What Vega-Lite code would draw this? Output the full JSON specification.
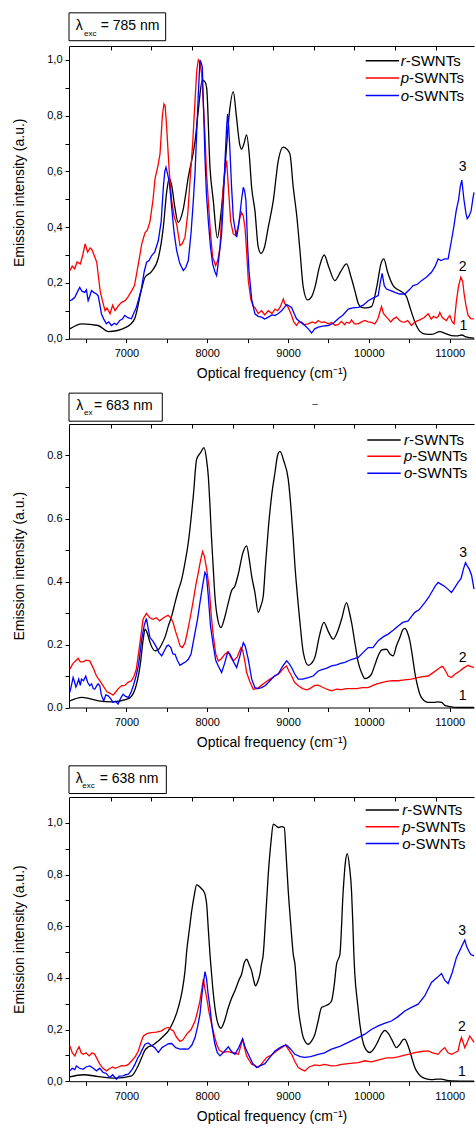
{
"$schema":"https://vega.github.io/schema/vega-lite/v6.json",
"background":"white",
"padding":{"left":12,"top":12,"right":0,"bottom":0},
"config":{"font":"Liberation Sans","view":{"stroke":null},"axis":{"domainColor":"#000","tickColor":"#000","labelColor":"#000","titleColor":"#000","labelFontSize":11,"titleFontSize":14,"titleFontWeight":"normal","grid":false,"domainWidth":1,"tickWidth":1,"labelOverlap":false,"labelFlush":false},"text":{"color":"#000"}},
"datasets":{
"r1":[{"x":6300,"y":0.035},{"x":6450,"y":0.053},{"x":6650,"y":0.047},{"x":6780,"y":0.025},{"x":7000,"y":0.041},{"x":7100,"y":0.07},{"x":7190,"y":0.18},{"x":7230,"y":0.22},{"x":7310,"y":0.24},{"x":7395,"y":0.29},{"x":7457,"y":0.40},{"x":7500,"y":0.53},{"x":7530,"y":0.575},{"x":7560,"y":0.55},{"x":7600,"y":0.47},{"x":7640,"y":0.417},{"x":7700,"y":0.46},{"x":7766,"y":0.58},{"x":7850,"y":0.71},{"x":7890,"y":0.82},{"x":7940,"y":0.928},{"x":7975,"y":0.92},{"x":7993,"y":0.9},{"x":8034,"y":0.615},{"x":8075,"y":0.495},{"x":8125,"y":0.361},{"x":8170,"y":0.45},{"x":8220,"y":0.615},{"x":8270,"y":0.8},{"x":8322,"y":0.886},{"x":8360,"y":0.8},{"x":8400,"y":0.7},{"x":8425,"y":0.68},{"x":8455,"y":0.7},{"x":8487,"y":0.731},{"x":8520,"y":0.66},{"x":8549,"y":0.543},{"x":8590,"y":0.459},{"x":8630,"y":0.33},{"x":8665,"y":0.306},{"x":8710,"y":0.33},{"x":8755,"y":0.4},{"x":8817,"y":0.495},{"x":8879,"y":0.639},{"x":8940,"y":0.687},{"x":8985,"y":0.68},{"x":9023,"y":0.663},{"x":9064,"y":0.543},{"x":9105,"y":0.447},{"x":9147,"y":0.316},{"x":9188,"y":0.184},{"x":9241,"y":0.139},{"x":9290,"y":0.15},{"x":9332,"y":0.184},{"x":9390,"y":0.26},{"x":9447,"y":0.3},{"x":9500,"y":0.26},{"x":9579,"y":0.208},{"x":9650,"y":0.24},{"x":9723,"y":0.268},{"x":9780,"y":0.22},{"x":9826,"y":0.172},{"x":9870,"y":0.125},{"x":9909,"y":0.112},{"x":9960,"y":0.11},{"x":10032,"y":0.115},{"x":10100,"y":0.19},{"x":10150,"y":0.27},{"x":10185,"y":0.286},{"x":10230,"y":0.24},{"x":10300,"y":0.19},{"x":10362,"y":0.175},{"x":10420,"y":0.165},{"x":10465,"y":0.15},{"x":10510,"y":0.11},{"x":10547,"y":0.077},{"x":10590,"y":0.045},{"x":10630,"y":0.026},{"x":10700,"y":0.016},{"x":10780,"y":0.015},{"x":10877,"y":0.025},{"x":10950,"y":0.018},{"x":11021,"y":0.011},{"x":11100,"y":0.01},{"x":11150,"y":0.013},{"x":11200,"y":0.006},{"x":11300,"y":0.002}],
"p1":[{"x":6300,"y":0.244},{"x":6330,"y":0.26},{"x":6360,"y":0.25},{"x":6390,"y":0.275},{"x":6430,"y":0.268},{"x":6460,"y":0.3},{"x":6490,"y":0.34},{"x":6520,"y":0.31},{"x":6550,"y":0.325},{"x":6572,"y":0.32},{"x":6600,"y":0.3},{"x":6633,"y":0.274},{"x":6655,"y":0.22},{"x":6675,"y":0.172},{"x":6700,"y":0.14},{"x":6736,"y":0.1},{"x":6760,"y":0.11},{"x":6798,"y":0.089},{"x":6830,"y":0.12},{"x":6860,"y":0.1},{"x":6901,"y":0.118},{"x":6940,"y":0.13},{"x":6984,"y":0.136},{"x":7020,"y":0.15},{"x":7066,"y":0.172},{"x":7100,"y":0.19},{"x":7148,"y":0.268},{"x":7190,"y":0.34},{"x":7230,"y":0.38},{"x":7260,"y":0.39},{"x":7292,"y":0.42},{"x":7330,"y":0.5},{"x":7354,"y":0.573},{"x":7390,"y":0.62},{"x":7416,"y":0.663},{"x":7445,"y":0.8},{"x":7465,"y":0.842},{"x":7480,"y":0.835},{"x":7498,"y":0.758},{"x":7530,"y":0.6},{"x":7560,"y":0.495},{"x":7590,"y":0.44},{"x":7622,"y":0.41},{"x":7663,"y":0.334},{"x":7690,"y":0.34},{"x":7725,"y":0.364},{"x":7760,"y":0.45},{"x":7787,"y":0.567},{"x":7820,"y":0.7},{"x":7849,"y":0.854},{"x":7870,"y":0.96},{"x":7890,"y":1.0},{"x":7910,"y":0.99},{"x":7931,"y":0.95},{"x":7950,"y":0.85},{"x":7972,"y":0.734},{"x":7990,"y":0.6},{"x":8013,"y":0.495},{"x":8040,"y":0.38},{"x":8067,"y":0.292},{"x":8104,"y":0.262},{"x":8130,"y":0.28},{"x":8158,"y":0.328},{"x":8180,"y":0.45},{"x":8199,"y":0.543},{"x":8220,"y":0.6},{"x":8240,"y":0.639},{"x":8260,"y":0.55},{"x":8290,"y":0.42},{"x":8322,"y":0.376},{"x":8351,"y":0.37},{"x":8380,"y":0.4},{"x":8405,"y":0.435},{"x":8425,"y":0.453},{"x":8445,"y":0.44},{"x":8467,"y":0.4},{"x":8490,"y":0.3},{"x":8508,"y":0.208},{"x":8540,"y":0.14},{"x":8570,"y":0.115},{"x":8590,"y":0.112},{"x":8630,"y":0.09},{"x":8673,"y":0.1},{"x":8710,"y":0.085},{"x":8755,"y":0.1},{"x":8800,"y":0.09},{"x":8838,"y":0.106},{"x":8870,"y":0.1},{"x":8900,"y":0.112},{"x":8925,"y":0.13},{"x":8941,"y":0.142},{"x":8960,"y":0.125},{"x":8980,"y":0.12},{"x":9002,"y":0.112},{"x":9044,"y":0.083},{"x":9070,"y":0.06},{"x":9105,"y":0.047},{"x":9135,"y":0.06},{"x":9167,"y":0.059},{"x":9200,"y":0.05},{"x":9249,"y":0.053},{"x":9300,"y":0.06},{"x":9340,"y":0.055},{"x":9373,"y":0.065},{"x":9410,"y":0.058},{"x":9450,"y":0.06},{"x":9497,"y":0.053},{"x":9540,"y":0.058},{"x":9580,"y":0.048},{"x":9620,"y":0.05},{"x":9660,"y":0.062},{"x":9700,"y":0.05},{"x":9723,"y":0.059},{"x":9760,"y":0.055},{"x":9785,"y":0.067},{"x":9820,"y":0.053},{"x":9868,"y":0.053},{"x":9910,"y":0.06},{"x":9950,"y":0.065},{"x":9990,"y":0.06},{"x":10030,"y":0.058},{"x":10074,"y":0.053},{"x":10110,"y":0.07},{"x":10140,"y":0.1},{"x":10156,"y":0.115},{"x":10180,"y":0.09},{"x":10210,"y":0.08},{"x":10238,"y":0.071},{"x":10270,"y":0.06},{"x":10300,"y":0.07},{"x":10341,"y":0.077},{"x":10380,"y":0.065},{"x":10410,"y":0.06},{"x":10444,"y":0.059},{"x":10480,"y":0.065},{"x":10527,"y":0.047},{"x":10570,"y":0.06},{"x":10630,"y":0.067},{"x":10680,"y":0.075},{"x":10733,"y":0.089},{"x":10770,"y":0.07},{"x":10800,"y":0.08},{"x":10836,"y":0.074},{"x":10860,"y":0.08},{"x":10877,"y":0.094},{"x":10910,"y":0.075},{"x":10959,"y":0.065},{"x":10980,"y":0.075},{"x":11001,"y":0.083},{"x":11030,"y":0.06},{"x":11054,"y":0.053},{"x":11083,"y":0.136},{"x":11110,"y":0.19},{"x":11137,"y":0.22},{"x":11160,"y":0.205},{"x":11178,"y":0.16},{"x":11200,"y":0.12},{"x":11227,"y":0.083},{"x":11260,"y":0.072},{"x":11300,"y":0.071}],
"o1":[{"x":6300,"y":0.136},{"x":6330,"y":0.14},{"x":6362,"y":0.148},{"x":6390,"y":0.165},{"x":6423,"y":0.184},{"x":6450,"y":0.17},{"x":6485,"y":0.166},{"x":6505,"y":0.175},{"x":6527,"y":0.136},{"x":6545,"y":0.15},{"x":6568,"y":0.172},{"x":6600,"y":0.165},{"x":6630,"y":0.16},{"x":6650,"y":0.154},{"x":6670,"y":0.125},{"x":6691,"y":0.089},{"x":6720,"y":0.07},{"x":6753,"y":0.053},{"x":6780,"y":0.06},{"x":6815,"y":0.047},{"x":6850,"y":0.055},{"x":6880,"y":0.05},{"x":6918,"y":0.065},{"x":6950,"y":0.07},{"x":6980,"y":0.083},{"x":7020,"y":0.075},{"x":7062,"y":0.071},{"x":7090,"y":0.09},{"x":7123,"y":0.112},{"x":7150,"y":0.14},{"x":7185,"y":0.178},{"x":7220,"y":0.24},{"x":7250,"y":0.274},{"x":7280,"y":0.28},{"x":7313,"y":0.298},{"x":7350,"y":0.31},{"x":7395,"y":0.352},{"x":7430,"y":0.42},{"x":7457,"y":0.543},{"x":7475,"y":0.6},{"x":7490,"y":0.615},{"x":7510,"y":0.59},{"x":7527,"y":0.567},{"x":7545,"y":0.52},{"x":7560,"y":0.471},{"x":7590,"y":0.38},{"x":7622,"y":0.316},{"x":7660,"y":0.27},{"x":7704,"y":0.244},{"x":7735,"y":0.255},{"x":7766,"y":0.28},{"x":7800,"y":0.38},{"x":7828,"y":0.495},{"x":7850,"y":0.6},{"x":7869,"y":0.734},{"x":7890,"y":0.88},{"x":7910,"y":1.0},{"x":7925,"y":0.99},{"x":7939,"y":0.974},{"x":7955,"y":0.82},{"x":7972,"y":0.651},{"x":7990,"y":0.52},{"x":8013,"y":0.423},{"x":8040,"y":0.33},{"x":8067,"y":0.268},{"x":8095,"y":0.24},{"x":8116,"y":0.226},{"x":8140,"y":0.28},{"x":8178,"y":0.376},{"x":8200,"y":0.5},{"x":8220,"y":0.639},{"x":8240,"y":0.76},{"x":8252,"y":0.806},{"x":8265,"y":0.76},{"x":8281,"y":0.675},{"x":8300,"y":0.55},{"x":8322,"y":0.435},{"x":8345,"y":0.39},{"x":8364,"y":0.364},{"x":8385,"y":0.4},{"x":8405,"y":0.447},{"x":8425,"y":0.5},{"x":8446,"y":0.543},{"x":8462,"y":0.53},{"x":8479,"y":0.495},{"x":8500,"y":0.33},{"x":8516,"y":0.244},{"x":8550,"y":0.14},{"x":8590,"y":0.089},{"x":8630,"y":0.08},{"x":8673,"y":0.077},{"x":8710,"y":0.07},{"x":8755,"y":0.077},{"x":8800,"y":0.085},{"x":8838,"y":0.083},{"x":8880,"y":0.09},{"x":8920,"y":0.1},{"x":8950,"y":0.11},{"x":8982,"y":0.122},{"x":9010,"y":0.118},{"x":9044,"y":0.112},{"x":9075,"y":0.09},{"x":9105,"y":0.071},{"x":9150,"y":0.06},{"x":9208,"y":0.047},{"x":9250,"y":0.035},{"x":9291,"y":0.02},{"x":9330,"y":0.035},{"x":9373,"y":0.041},{"x":9430,"y":0.045},{"x":9497,"y":0.047},{"x":9560,"y":0.055},{"x":9620,"y":0.071},{"x":9680,"y":0.085},{"x":9744,"y":0.106},{"x":9800,"y":0.11},{"x":9868,"y":0.112},{"x":9930,"y":0.12},{"x":9991,"y":0.136},{"x":10050,"y":0.145},{"x":10115,"y":0.154},{"x":10140,"y":0.2},{"x":10164,"y":0.234},{"x":10190,"y":0.19},{"x":10218,"y":0.178},{"x":10270,"y":0.172},{"x":10321,"y":0.166},{"x":10380,"y":0.16},{"x":10444,"y":0.16},{"x":10500,"y":0.175},{"x":10547,"y":0.19},{"x":10600,"y":0.195},{"x":10650,"y":0.208},{"x":10710,"y":0.22},{"x":10774,"y":0.238},{"x":10820,"y":0.26},{"x":10856,"y":0.286},{"x":10890,"y":0.28},{"x":10938,"y":0.286},{"x":10980,"y":0.286},{"x":11021,"y":0.352},{"x":11050,"y":0.4},{"x":11080,"y":0.459},{"x":11110,"y":0.5},{"x":11130,"y":0.545},{"x":11149,"y":0.569},{"x":11175,"y":0.5},{"x":11200,"y":0.45},{"x":11216,"y":0.43},{"x":11240,"y":0.44},{"x":11265,"y":0.459},{"x":11285,"y":0.5},{"x":11300,"y":0.525}],
"r2":[{"x":6300,"y":0.021},{"x":6450,"y":0.032},{"x":6654,"y":0.021},{"x":6819,"y":0.018},{"x":7000,"y":0.026},{"x":7060,"y":0.035},{"x":7107,"y":0.058},{"x":7169,"y":0.132},{"x":7210,"y":0.22},{"x":7231,"y":0.249},{"x":7260,"y":0.235},{"x":7293,"y":0.206},{"x":7354,"y":0.18},{"x":7400,"y":0.185},{"x":7437,"y":0.201},{"x":7480,"y":0.225},{"x":7519,"y":0.259},{"x":7560,"y":0.29},{"x":7602,"y":0.333},{"x":7640,"y":0.37},{"x":7684,"y":0.407},{"x":7725,"y":0.46},{"x":7766,"y":0.524},{"x":7800,"y":0.6},{"x":7828,"y":0.672},{"x":7869,"y":0.788},{"x":7920,"y":0.81},{"x":7960,"y":0.825},{"x":7990,"y":0.79},{"x":8013,"y":0.735},{"x":8034,"y":0.64},{"x":8054,"y":0.534},{"x":8075,"y":0.44},{"x":8095,"y":0.354},{"x":8130,"y":0.28},{"x":8170,"y":0.254},{"x":8210,"y":0.28},{"x":8261,"y":0.333},{"x":8300,"y":0.37},{"x":8343,"y":0.386},{"x":8390,"y":0.43},{"x":8440,"y":0.49},{"x":8487,"y":0.513},{"x":8520,"y":0.47},{"x":8549,"y":0.418},{"x":8590,"y":0.365},{"x":8631,"y":0.302},{"x":8660,"y":0.32},{"x":8693,"y":0.354},{"x":8720,"y":0.45},{"x":8755,"y":0.566},{"x":8800,"y":0.68},{"x":8838,"y":0.746},{"x":8870,"y":0.8},{"x":8900,"y":0.813},{"x":8950,"y":0.78},{"x":9002,"y":0.725},{"x":9040,"y":0.62},{"x":9064,"y":0.534},{"x":9085,"y":0.45},{"x":9105,"y":0.386},{"x":9147,"y":0.27},{"x":9188,"y":0.175},{"x":9250,"y":0.134},{"x":9290,"y":0.14},{"x":9332,"y":0.159},{"x":9390,"y":0.23},{"x":9443,"y":0.27},{"x":9500,"y":0.24},{"x":9559,"y":0.217},{"x":9610,"y":0.24},{"x":9662,"y":0.28},{"x":9723,"y":0.333},{"x":9760,"y":0.3},{"x":9785,"y":0.27},{"x":9830,"y":0.2},{"x":9868,"y":0.143},{"x":9910,"y":0.11},{"x":9950,"y":0.092},{"x":9990,"y":0.095},{"x":10032,"y":0.106},{"x":10080,"y":0.14},{"x":10115,"y":0.164},{"x":10160,"y":0.183},{"x":10218,"y":0.185},{"x":10260,"y":0.17},{"x":10300,"y":0.164},{"x":10340,"y":0.195},{"x":10383,"y":0.222},{"x":10420,"y":0.247},{"x":10444,"y":0.251},{"x":10475,"y":0.24},{"x":10506,"y":0.212},{"x":10540,"y":0.16},{"x":10568,"y":0.111},{"x":10600,"y":0.07},{"x":10630,"y":0.042},{"x":10680,"y":0.022},{"x":10733,"y":0.016},{"x":10800,"y":0.016},{"x":10856,"y":0.018},{"x":10900,"y":0.016},{"x":10938,"y":0.007},{"x":11000,"y":0.003},{"x":11103,"y":0.0},{"x":11300,"y":0.0}],
"p2":[{"x":6300,"y":0.122},{"x":6340,"y":0.14},{"x":6380,"y":0.15},{"x":6403,"y":0.156},{"x":6430,"y":0.145},{"x":6465,"y":0.145},{"x":6500,"y":0.15},{"x":6547,"y":0.148},{"x":6590,"y":0.125},{"x":6630,"y":0.1},{"x":6670,"y":0.085},{"x":6712,"y":0.069},{"x":6760,"y":0.05},{"x":6800,"y":0.045},{"x":6835,"y":0.039},{"x":6870,"y":0.05},{"x":6900,"y":0.06},{"x":6938,"y":0.069},{"x":6980,"y":0.07},{"x":7020,"y":0.08},{"x":7062,"y":0.085},{"x":7095,"y":0.1},{"x":7123,"y":0.122},{"x":7160,"y":0.19},{"x":7206,"y":0.28},{"x":7247,"y":0.299},{"x":7290,"y":0.285},{"x":7329,"y":0.28},{"x":7370,"y":0.285},{"x":7411,"y":0.275},{"x":7460,"y":0.285},{"x":7515,"y":0.293},{"x":7550,"y":0.285},{"x":7577,"y":0.27},{"x":7610,"y":0.24},{"x":7639,"y":0.217},{"x":7665,"y":0.195},{"x":7692,"y":0.19},{"x":7725,"y":0.205},{"x":7762,"y":0.249},{"x":7800,"y":0.3},{"x":7823,"y":0.333},{"x":7860,"y":0.39},{"x":7890,"y":0.429},{"x":7920,"y":0.47},{"x":7943,"y":0.495},{"x":7965,"y":0.48},{"x":7993,"y":0.439},{"x":8026,"y":0.376},{"x":8050,"y":0.29},{"x":8075,"y":0.228},{"x":8105,"y":0.17},{"x":8137,"y":0.148},{"x":8175,"y":0.155},{"x":8220,"y":0.17},{"x":8261,"y":0.177},{"x":8290,"y":0.16},{"x":8322,"y":0.148},{"x":8370,"y":0.16},{"x":8417,"y":0.19},{"x":8440,"y":0.18},{"x":8470,"y":0.14},{"x":8487,"y":0.111},{"x":8530,"y":0.08},{"x":8570,"y":0.058},{"x":8620,"y":0.06},{"x":8673,"y":0.071},{"x":8720,"y":0.08},{"x":8776,"y":0.09},{"x":8840,"y":0.1},{"x":8900,"y":0.111},{"x":8945,"y":0.125},{"x":8982,"y":0.132},{"x":9010,"y":0.115},{"x":9044,"y":0.1},{"x":9080,"y":0.08},{"x":9126,"y":0.069},{"x":9180,"y":0.06},{"x":9229,"y":0.056},{"x":9270,"y":0.06},{"x":9330,"y":0.07},{"x":9373,"y":0.071},{"x":9420,"y":0.065},{"x":9480,"y":0.058},{"x":9538,"y":0.053},{"x":9600,"y":0.058},{"x":9660,"y":0.057},{"x":9720,"y":0.06},{"x":9785,"y":0.06},{"x":9850,"y":0.06},{"x":9920,"y":0.063},{"x":9991,"y":0.063},{"x":10050,"y":0.07},{"x":10100,"y":0.075},{"x":10156,"y":0.079},{"x":10220,"y":0.083},{"x":10290,"y":0.085},{"x":10362,"y":0.085},{"x":10440,"y":0.088},{"x":10527,"y":0.09},{"x":10600,"y":0.095},{"x":10670,"y":0.098},{"x":10733,"y":0.1},{"x":10790,"y":0.11},{"x":10856,"y":0.122},{"x":10900,"y":0.13},{"x":10918,"y":0.129},{"x":10950,"y":0.115},{"x":10980,"y":0.1},{"x":11021,"y":0.095},{"x":11060,"y":0.105},{"x":11124,"y":0.116},{"x":11170,"y":0.125},{"x":11227,"y":0.134},{"x":11260,"y":0.13},{"x":11300,"y":0.127}],
"o2":[{"x":6300,"y":0.048},{"x":6320,"y":0.07},{"x":6341,"y":0.095},{"x":6360,"y":0.08},{"x":6375,"y":0.065},{"x":6390,"y":0.074},{"x":6410,"y":0.09},{"x":6430,"y":0.07},{"x":6444,"y":0.09},{"x":6470,"y":0.085},{"x":6497,"y":0.1},{"x":6520,"y":0.08},{"x":6547,"y":0.069},{"x":6570,"y":0.075},{"x":6590,"y":0.06},{"x":6609,"y":0.058},{"x":6635,"y":0.07},{"x":6650,"y":0.075},{"x":6671,"y":0.069},{"x":6690,"y":0.04},{"x":6720,"y":0.021},{"x":6745,"y":0.04},{"x":6774,"y":0.037},{"x":6800,"y":0.03},{"x":6835,"y":0.016},{"x":6865,"y":0.02},{"x":6897,"y":0.011},{"x":6930,"y":0.03},{"x":6959,"y":0.042},{"x":6990,"y":0.035},{"x":7025,"y":0.032},{"x":7060,"y":0.05},{"x":7086,"y":0.069},{"x":7120,"y":0.1},{"x":7148,"y":0.132},{"x":7170,"y":0.175},{"x":7190,"y":0.217},{"x":7220,"y":0.26},{"x":7247,"y":0.283},{"x":7270,"y":0.25},{"x":7292,"y":0.222},{"x":7330,"y":0.21},{"x":7375,"y":0.19},{"x":7400,"y":0.175},{"x":7437,"y":0.164},{"x":7470,"y":0.18},{"x":7500,"y":0.195},{"x":7519,"y":0.198},{"x":7550,"y":0.19},{"x":7575,"y":0.17},{"x":7602,"y":0.169},{"x":7630,"y":0.15},{"x":7663,"y":0.134},{"x":7700,"y":0.14},{"x":7735,"y":0.145},{"x":7766,"y":0.153},{"x":7800,"y":0.17},{"x":7849,"y":0.238},{"x":7880,"y":0.28},{"x":7910,"y":0.333},{"x":7945,"y":0.39},{"x":7972,"y":0.429},{"x":7990,"y":0.42},{"x":8013,"y":0.354},{"x":8040,"y":0.26},{"x":8075,"y":0.196},{"x":8105,"y":0.15},{"x":8137,"y":0.132},{"x":8178,"y":0.111},{"x":8215,"y":0.14},{"x":8252,"y":0.175},{"x":8280,"y":0.17},{"x":8302,"y":0.159},{"x":8335,"y":0.14},{"x":8364,"y":0.127},{"x":8400,"y":0.16},{"x":8446,"y":0.206},{"x":8470,"y":0.195},{"x":8508,"y":0.153},{"x":8550,"y":0.09},{"x":8590,"y":0.063},{"x":8630,"y":0.06},{"x":8673,"y":0.063},{"x":8720,"y":0.07},{"x":8776,"y":0.085},{"x":8830,"y":0.1},{"x":8879,"y":0.106},{"x":8930,"y":0.13},{"x":8982,"y":0.148},{"x":9010,"y":0.14},{"x":9044,"y":0.127},{"x":9085,"y":0.105},{"x":9126,"y":0.09},{"x":9180,"y":0.09},{"x":9250,"y":0.095},{"x":9310,"y":0.1},{"x":9373,"y":0.116},{"x":9420,"y":0.12},{"x":9480,"y":0.125},{"x":9538,"y":0.132},{"x":9600,"y":0.135},{"x":9650,"y":0.14},{"x":9703,"y":0.143},{"x":9760,"y":0.15},{"x":9820,"y":0.155},{"x":9868,"y":0.159},{"x":9930,"y":0.175},{"x":9991,"y":0.19},{"x":10050,"y":0.19},{"x":10115,"y":0.212},{"x":10180,"y":0.225},{"x":10238,"y":0.233},{"x":10300,"y":0.245},{"x":10362,"y":0.259},{"x":10420,"y":0.27},{"x":10486,"y":0.275},{"x":10530,"y":0.29},{"x":10568,"y":0.302},{"x":10620,"y":0.31},{"x":10692,"y":0.333},{"x":10740,"y":0.35},{"x":10774,"y":0.365},{"x":10820,"y":0.385},{"x":10856,"y":0.397},{"x":10900,"y":0.39},{"x":10938,"y":0.384},{"x":10980,"y":0.375},{"x":11021,"y":0.365},{"x":11060,"y":0.38},{"x":11103,"y":0.397},{"x":11140,"y":0.41},{"x":11170,"y":0.44},{"x":11195,"y":0.46},{"x":11215,"y":0.45},{"x":11240,"y":0.44},{"x":11270,"y":0.42},{"x":11300,"y":0.376}],
"r3":[{"x":6300,"y":0.017},{"x":6465,"y":0.025},{"x":6654,"y":0.018},{"x":6860,"y":0.012},{"x":7066,"y":0.021},{"x":7130,"y":0.05},{"x":7190,"y":0.092},{"x":7230,"y":0.12},{"x":7272,"y":0.133},{"x":7330,"y":0.14},{"x":7395,"y":0.156},{"x":7460,"y":0.175},{"x":7519,"y":0.195},{"x":7580,"y":0.23},{"x":7642,"y":0.285},{"x":7690,"y":0.35},{"x":7725,"y":0.427},{"x":7746,"y":0.504},{"x":7780,"y":0.59},{"x":7808,"y":0.659},{"x":7840,"y":0.72},{"x":7869,"y":0.76},{"x":7900,"y":0.755},{"x":7930,"y":0.745},{"x":7952,"y":0.737},{"x":7975,"y":0.72},{"x":7993,"y":0.685},{"x":8015,"y":0.58},{"x":8034,"y":0.491},{"x":8054,"y":0.414},{"x":8075,"y":0.34},{"x":8095,"y":0.285},{"x":8130,"y":0.225},{"x":8170,"y":0.205},{"x":8210,"y":0.23},{"x":8261,"y":0.285},{"x":8300,"y":0.32},{"x":8343,"y":0.35},{"x":8390,"y":0.39},{"x":8425,"y":0.414},{"x":8460,"y":0.46},{"x":8487,"y":0.472},{"x":8520,"y":0.45},{"x":8549,"y":0.427},{"x":8575,"y":0.39},{"x":8598,"y":0.369},{"x":8625,"y":0.385},{"x":8652,"y":0.414},{"x":8670,"y":0.45},{"x":8693,"y":0.491},{"x":8720,"y":0.62},{"x":8755,"y":0.801},{"x":8790,"y":0.93},{"x":8817,"y":0.995},{"x":8845,"y":0.99},{"x":8879,"y":0.982},{"x":8920,"y":0.985},{"x":8953,"y":0.982},{"x":8975,"y":0.88},{"x":9002,"y":0.737},{"x":9035,"y":0.6},{"x":9064,"y":0.491},{"x":9085,"y":0.453},{"x":9105,"y":0.37},{"x":9126,"y":0.285},{"x":9160,"y":0.21},{"x":9188,"y":0.169},{"x":9250,"y":0.143},{"x":9290,"y":0.155},{"x":9332,"y":0.182},{"x":9370,"y":0.23},{"x":9414,"y":0.285},{"x":9450,"y":0.29},{"x":9476,"y":0.294},{"x":9510,"y":0.3},{"x":9538,"y":0.311},{"x":9570,"y":0.37},{"x":9600,"y":0.453},{"x":9641,"y":0.491},{"x":9682,"y":0.737},{"x":9710,"y":0.85},{"x":9732,"y":0.881},{"x":9760,"y":0.83},{"x":9785,"y":0.737},{"x":9800,"y":0.62},{"x":9814,"y":0.491},{"x":9826,"y":0.414},{"x":9860,"y":0.3},{"x":9888,"y":0.221},{"x":9920,"y":0.16},{"x":9950,"y":0.13},{"x":10012,"y":0.111},{"x":10060,"y":0.125},{"x":10115,"y":0.156},{"x":10160,"y":0.185},{"x":10197,"y":0.197},{"x":10240,"y":0.185},{"x":10280,"y":0.163},{"x":10341,"y":0.13},{"x":10383,"y":0.143},{"x":10420,"y":0.16},{"x":10444,"y":0.163},{"x":10475,"y":0.145},{"x":10506,"y":0.117},{"x":10540,"y":0.08},{"x":10568,"y":0.053},{"x":10610,"y":0.03},{"x":10650,"y":0.017},{"x":10700,"y":0.01},{"x":10774,"y":0.006},{"x":10850,"y":0.008},{"x":10898,"y":0.008},{"x":10950,"y":0.004},{"x":11021,"y":0.001},{"x":11300,"y":0.0}],
"p3":[{"x":6300,"y":0.137},{"x":6330,"y":0.11},{"x":6362,"y":0.098},{"x":6390,"y":0.12},{"x":6415,"y":0.133},{"x":6440,"y":0.11},{"x":6465,"y":0.104},{"x":6500,"y":0.11},{"x":6539,"y":0.098},{"x":6575,"y":0.11},{"x":6609,"y":0.104},{"x":6640,"y":0.085},{"x":6671,"y":0.066},{"x":6710,"y":0.05},{"x":6753,"y":0.04},{"x":6800,"y":0.05},{"x":6830,"y":0.055},{"x":6860,"y":0.05},{"x":6900,"y":0.055},{"x":6940,"y":0.06},{"x":6984,"y":0.059},{"x":7025,"y":0.065},{"x":7066,"y":0.079},{"x":7110,"y":0.095},{"x":7148,"y":0.117},{"x":7180,"y":0.15},{"x":7210,"y":0.175},{"x":7260,"y":0.185},{"x":7313,"y":0.188},{"x":7370,"y":0.19},{"x":7437,"y":0.195},{"x":7480,"y":0.205},{"x":7519,"y":0.208},{"x":7550,"y":0.2},{"x":7581,"y":0.195},{"x":7620,"y":0.17},{"x":7663,"y":0.154},{"x":7700,"y":0.16},{"x":7746,"y":0.182},{"x":7800,"y":0.2},{"x":7849,"y":0.233},{"x":7880,"y":0.27},{"x":7910,"y":0.311},{"x":7935,"y":0.36},{"x":7952,"y":0.395},{"x":7970,"y":0.36},{"x":7993,"y":0.324},{"x":8020,"y":0.27},{"x":8054,"y":0.221},{"x":8085,"y":0.18},{"x":8116,"y":0.143},{"x":8150,"y":0.12},{"x":8199,"y":0.111},{"x":8250,"y":0.115},{"x":8302,"y":0.111},{"x":8340,"y":0.11},{"x":8384,"y":0.104},{"x":8410,"y":0.13},{"x":8438,"y":0.163},{"x":8460,"y":0.13},{"x":8487,"y":0.098},{"x":8520,"y":0.08},{"x":8549,"y":0.066},{"x":8590,"y":0.06},{"x":8631,"y":0.053},{"x":8680,"y":0.07},{"x":8734,"y":0.092},{"x":8790,"y":0.1},{"x":8858,"y":0.117},{"x":8920,"y":0.13},{"x":8969,"y":0.141},{"x":9000,"y":0.125},{"x":9044,"y":0.104},{"x":9085,"y":0.075},{"x":9126,"y":0.053},{"x":9170,"y":0.045},{"x":9208,"y":0.04},{"x":9260,"y":0.055},{"x":9332,"y":0.063},{"x":9390,"y":0.06},{"x":9450,"y":0.065},{"x":9538,"y":0.059},{"x":9600,"y":0.06},{"x":9660,"y":0.065},{"x":9744,"y":0.068},{"x":9800,"y":0.07},{"x":9870,"y":0.072},{"x":9950,"y":0.079},{"x":10030,"y":0.075},{"x":10090,"y":0.08},{"x":10156,"y":0.085},{"x":10220,"y":0.09},{"x":10290,"y":0.09},{"x":10362,"y":0.094},{"x":10430,"y":0.1},{"x":10500,"y":0.105},{"x":10568,"y":0.111},{"x":10650,"y":0.115},{"x":10733,"y":0.117},{"x":10790,"y":0.11},{"x":10856,"y":0.104},{"x":10900,"y":0.12},{"x":10938,"y":0.13},{"x":10980,"y":0.11},{"x":11021,"y":0.104},{"x":11060,"y":0.11},{"x":11103,"y":0.117},{"x":11125,"y":0.15},{"x":11145,"y":0.169},{"x":11165,"y":0.15},{"x":11186,"y":0.13},{"x":11215,"y":0.15},{"x":11248,"y":0.175},{"x":11270,"y":0.165},{"x":11300,"y":0.15}],
"o3":[{"x":6300,"y":0.04},{"x":6330,"y":0.05},{"x":6360,"y":0.045},{"x":6382,"y":0.059},{"x":6420,"y":0.05},{"x":6465,"y":0.046},{"x":6500,"y":0.055},{"x":6547,"y":0.059},{"x":6590,"y":0.05},{"x":6630,"y":0.04},{"x":6670,"y":0.05},{"x":6712,"y":0.034},{"x":6750,"y":0.03},{"x":6794,"y":0.014},{"x":6830,"y":0.025},{"x":6876,"y":0.008},{"x":6910,"y":0.02},{"x":6959,"y":0.021},{"x":6990,"y":0.025},{"x":7025,"y":0.027},{"x":7070,"y":0.045},{"x":7107,"y":0.066},{"x":7140,"y":0.09},{"x":7169,"y":0.104},{"x":7200,"y":0.125},{"x":7231,"y":0.143},{"x":7270,"y":0.148},{"x":7313,"y":0.137},{"x":7350,"y":0.13},{"x":7395,"y":0.111},{"x":7440,"y":0.13},{"x":7478,"y":0.137},{"x":7520,"y":0.145},{"x":7560,"y":0.146},{"x":7610,"y":0.13},{"x":7663,"y":0.124},{"x":7710,"y":0.125},{"x":7766,"y":0.124},{"x":7810,"y":0.14},{"x":7849,"y":0.169},{"x":7880,"y":0.21},{"x":7910,"y":0.259},{"x":7940,"y":0.35},{"x":7972,"y":0.424},{"x":7990,"y":0.4},{"x":8010,"y":0.34},{"x":8034,"y":0.285},{"x":8060,"y":0.21},{"x":8095,"y":0.143},{"x":8125,"y":0.11},{"x":8158,"y":0.098},{"x":8210,"y":0.115},{"x":8261,"y":0.133},{"x":8300,"y":0.115},{"x":8343,"y":0.104},{"x":8390,"y":0.13},{"x":8438,"y":0.165},{"x":8470,"y":0.13},{"x":8508,"y":0.104},{"x":8560,"y":0.07},{"x":8611,"y":0.053},{"x":8660,"y":0.06},{"x":8714,"y":0.068},{"x":8770,"y":0.09},{"x":8838,"y":0.117},{"x":8900,"y":0.13},{"x":8950,"y":0.138},{"x":8982,"y":0.139},{"x":9030,"y":0.125},{"x":9085,"y":0.104},{"x":9150,"y":0.095},{"x":9208,"y":0.092},{"x":9280,"y":0.095},{"x":9373,"y":0.104},{"x":9450,"y":0.11},{"x":9538,"y":0.124},{"x":9640,"y":0.135},{"x":9744,"y":0.15},{"x":9840,"y":0.165},{"x":9950,"y":0.182},{"x":10030,"y":0.2},{"x":10115,"y":0.214},{"x":10200,"y":0.225},{"x":10280,"y":0.233},{"x":10360,"y":0.25},{"x":10444,"y":0.272},{"x":10520,"y":0.285},{"x":10609,"y":0.298},{"x":10690,"y":0.33},{"x":10774,"y":0.382},{"x":10840,"y":0.4},{"x":10898,"y":0.417},{"x":10940,"y":0.39},{"x":10980,"y":0.378},{"x":11030,"y":0.42},{"x":11083,"y":0.479},{"x":11130,"y":0.51},{"x":11160,"y":0.53},{"x":11186,"y":0.546},{"x":11210,"y":0.52},{"x":11236,"y":0.504},{"x":11260,"y":0.49},{"x":11300,"y":0.485}]
},
"vconcat":[
{"spacing":11,"vconcat":[
{"width":405,"height":292.6,"resolve":{"axis":{"x":"independent","y":"independent"}},"layer":[
{"data":{"name":"r1"},"mark":{"type":"line","color":"#000000","strokeWidth":1.3,"interpolate":"monotone"},"encoding":{"x":{"field":"x","type":"quantitative","scale":{"domain":[6290,11300],"nice":false,"zero":false},"axis":{"orient":"bottom","values":[6500,7000,7500,8000,8500,9000,9500,10000,10500,11000],"labelExpr":"datum.value % 1000 === 0 ? format(datum.value,'d') : ''","tickSize":4,"labelPadding":5,"title":"Optical frequency (cm⁻¹)","titlePadding":8}},"y":{"field":"y","type":"quantitative","scale":{"domain":[0,1.05],"nice":false},"axis":{"orient":"left","values":[0,0.1,0.2,0.3,0.4,0.5,0.6,0.7,0.8,0.9,1.0],"labelExpr":"round(datum.value*10) % 2 === 0 ? replace(format(datum.value,'.1f'),'.',',') : ''","tickSize":4,"labelPadding":3,"title":"Emission intensity (a.u.)","titlePadding":20}}}},
{"data":{"values":[{"x":6290,"x2":7486,"y":1.069,"y2":1.169}]},"mark":{"type":"rect","fill":"#ffffff","stroke":"#000000","strokeWidth":1},"encoding":{"x":{"field":"x","type":"quantitative","scale":{"domain":[6290,11300],"nice":false,"zero":false},"axis":null},"x2":{"field":"x2"},"y":{"field":"y","type":"quantitative","scale":{"domain":[0,1.05],"nice":false},"axis":null},"y2":{"field":"y2"}}},
{"data":{"name":"p1"},"mark":{"type":"line","color":"#ff0000","strokeWidth":1.3},"encoding":{"x":{"field":"x","type":"quantitative","scale":{"domain":[6290,11300],"nice":false,"zero":false},"axis":{"orient":"top","values":[6806,7309,7811,8314,8816,9319,9821,10324,10826],"labels":false,"tickSize":-4,"title":null}},"y":{"field":"y","type":"quantitative","scale":{"domain":[0,1.05],"nice":false},"axis":null}}},
{"data":{"name":"o1"},"mark":{"type":"line","color":"#0000ff","strokeWidth":1.3},"encoding":{"x":{"field":"x","type":"quantitative","scale":{"domain":[6290,11300],"nice":false,"zero":false},"axis":null},"y":{"field":"y","type":"quantitative","scale":{"domain":[0,1.05],"nice":false},"axis":null}}},
{"data":{"values":[{"s":"r","x":9960,"x2":10372,"y":0.9975},{"s":"p","x":9960,"x2":10372,"y":0.935},{"s":"o","x":9960,"x2":10372,"y":0.872}]},"mark":{"type":"rule","strokeWidth":1.5},"encoding":{"x":{"field":"x","type":"quantitative","scale":{"domain":[6290,11300],"nice":false,"zero":false},"axis":null},"x2":{"field":"x2"},"y":{"field":"y","type":"quantitative","scale":{"domain":[0,1.05],"nice":false},"axis":null},"color":{"field":"s","type":"nominal","scale":{"domain":["r","p","o"],"range":["#000000","#ff0000","#0000ff"]},"legend":null}}},
{"data":{"values":[{"t":"r","x":10393,"y":0.9975},{"t":"p","x":10393,"y":0.935},{"t":"o","x":10393,"y":0.872}]},"mark":{"type":"text","align":"left","baseline":"middle","fontSize":15,"fontStyle":"italic","color":"#000000"},"encoding":{"x":{"field":"x","type":"quantitative","scale":{"domain":[6290,11300],"nice":false,"zero":false},"axis":null},"y":{"field":"y","type":"quantitative","scale":{"domain":[0,1.05],"nice":false},"axis":null},"text":{"field":"t"}}},
{"data":{"values":[{"t":"-SWNTs","x":10393,"y":0.9975}]},"mark":{"type":"text","align":"left","baseline":"middle","fontSize":15,"dx":5,"color":"#000000"},"encoding":{"x":{"field":"x","type":"quantitative","scale":{"domain":[6290,11300],"nice":false,"zero":false},"axis":null},"y":{"field":"y","type":"quantitative","scale":{"domain":[0,1.05],"nice":false},"axis":null},"text":{"field":"t"}}},
{"data":{"values":[{"t":"-SWNTs","x":10393,"y":0.935},{"t":"-SWNTs","x":10393,"y":0.872}]},"mark":{"type":"text","align":"left","baseline":"middle","fontSize":15,"dx":8.3,"color":"#000000"},"encoding":{"x":{"field":"x","type":"quantitative","scale":{"domain":[6290,11300],"nice":false,"zero":false},"axis":null},"y":{"field":"y","type":"quantitative","scale":{"domain":[0,1.05],"nice":false},"axis":null},"text":{"field":"t"}}},
{"data":{"values":[{"t":"3","x":11160,"y":0.617},{"t":"2","x":11160,"y":0.256},{"t":"1","x":11168,"y":0.047}]},"mark":{"type":"text","align":"center","baseline":"middle","fontSize":14,"color":"#000000"},"encoding":{"x":{"field":"x","type":"quantitative","scale":{"domain":[6290,11300],"nice":false,"zero":false},"axis":null},"y":{"field":"y","type":"quantitative","scale":{"domain":[0,1.05],"nice":false},"axis":null},"text":{"field":"t"}}},
{"data":{"values":[{"t":"λ","x":6373,"y":1.1076},{"t":"= 785 nm","x":6682,"y":1.1076}]},"mark":{"type":"text","align":"left","baseline":"alphabetic","fontSize":14,"color":"#000000"},"encoding":{"x":{"field":"x","type":"quantitative","scale":{"domain":[6290,11300],"nice":false,"zero":false},"axis":null},"y":{"field":"y","type":"quantitative","scale":{"domain":[0,1.05],"nice":false},"axis":null},"text":{"field":"t"}}},
{"data":{"values":[{"t":"exc","x":6476,"y":1.087}]},"mark":{"type":"text","align":"left","baseline":"alphabetic","fontSize":8,"color":"#000000"},"encoding":{"x":{"field":"x","type":"quantitative","scale":{"domain":[6290,11300],"nice":false,"zero":false},"axis":null},"y":{"field":"y","type":"quantitative","scale":{"domain":[0,1.05],"nice":false},"axis":null},"text":{"field":"t"}}}
]},
{"width":405,"height":283.5,"resolve":{"axis":{"x":"independent","y":"independent"}},"layer":[
{"data":{"name":"r2"},"mark":{"type":"line","color":"#000000","strokeWidth":1.3,"interpolate":"monotone"},"encoding":{"x":{"field":"x","type":"quantitative","scale":{"domain":[6290,11300],"nice":false,"zero":false},"axis":{"orient":"bottom","values":[6500,7000,7500,8000,8500,9000,9500,10000,10500,11000],"labelExpr":"datum.value % 1000 === 0 ? format(datum.value,'d') : ''","tickSize":4,"labelPadding":5,"title":"Optical frequency (cm⁻¹)","titlePadding":8}},"y":{"field":"y","type":"quantitative","scale":{"domain":[0,0.9],"nice":false},"axis":{"orient":"left","values":[0,0.1,0.2,0.3,0.4,0.5,0.6,0.7,0.8],"labelExpr":"round(datum.value*10) % 2 === 0 ? format(datum.value,'.1f') : ''","tickSize":4,"labelPadding":3,"title":"Emission intensity (a.u.)","titlePadding":20}}}},
{"data":{"values":[{"x":6290,"x2":7444,"y":0.909,"y2":0.998}]},"mark":{"type":"rect","fill":"#ffffff","stroke":"#000000","strokeWidth":1},"encoding":{"x":{"field":"x","type":"quantitative","scale":{"domain":[6290,11300],"nice":false,"zero":false},"axis":null},"x2":{"field":"x2"},"y":{"field":"y","type":"quantitative","scale":{"domain":[0,0.9],"nice":false},"axis":null},"y2":{"field":"y2"}}},
{"data":{"name":"p2"},"mark":{"type":"line","color":"#ff0000","strokeWidth":1.3},"encoding":{"x":{"field":"x","type":"quantitative","scale":{"domain":[6290,11300],"nice":false,"zero":false},"axis":{"orient":"top","values":[6806,7309,7811,8314,8816,9319,9821,10324,10826],"labels":false,"tickSize":-4,"title":null}},"y":{"field":"y","type":"quantitative","scale":{"domain":[0,0.9],"nice":false},"axis":null}}},
{"data":{"name":"o2"},"mark":{"type":"line","color":"#0000ff","strokeWidth":1.3},"encoding":{"x":{"field":"x","type":"quantitative","scale":{"domain":[6290,11300],"nice":false,"zero":false},"axis":null},"y":{"field":"y","type":"quantitative","scale":{"domain":[0,0.9],"nice":false},"axis":null}}},
{"data":{"values":[{"s":"r","x":9980,"x2":10393,"y":0.849},{"s":"p","x":9980,"x2":10393,"y":0.798},{"s":"o","x":9980,"x2":10393,"y":0.744}]},"mark":{"type":"rule","strokeWidth":1.5},"encoding":{"x":{"field":"x","type":"quantitative","scale":{"domain":[6290,11300],"nice":false,"zero":false},"axis":null},"x2":{"field":"x2"},"y":{"field":"y","type":"quantitative","scale":{"domain":[0,0.9],"nice":false},"axis":null},"color":{"field":"s","type":"nominal","scale":{"domain":["r","p","o"],"range":["#000000","#ff0000","#0000ff"]},"legend":null}}},
{"data":{"values":[{"t":"r","x":10434,"y":0.849},{"t":"p","x":10434,"y":0.798},{"t":"o","x":10434,"y":0.744}]},"mark":{"type":"text","align":"left","baseline":"middle","fontSize":15,"fontStyle":"italic","color":"#000000"},"encoding":{"x":{"field":"x","type":"quantitative","scale":{"domain":[6290,11300],"nice":false,"zero":false},"axis":null},"y":{"field":"y","type":"quantitative","scale":{"domain":[0,0.9],"nice":false},"axis":null},"text":{"field":"t"}}},
{"data":{"values":[{"t":"-SWNTs","x":10434,"y":0.849}]},"mark":{"type":"text","align":"left","baseline":"middle","fontSize":15,"dx":5,"color":"#000000"},"encoding":{"x":{"field":"x","type":"quantitative","scale":{"domain":[6290,11300],"nice":false,"zero":false},"axis":null},"y":{"field":"y","type":"quantitative","scale":{"domain":[0,0.9],"nice":false},"axis":null},"text":{"field":"t"}}},
{"data":{"values":[{"t":"-SWNTs","x":10434,"y":0.798},{"t":"-SWNTs","x":10434,"y":0.744}]},"mark":{"type":"text","align":"left","baseline":"middle","fontSize":15,"dx":8.3,"color":"#000000"},"encoding":{"x":{"field":"x","type":"quantitative","scale":{"domain":[6290,11300],"nice":false,"zero":false},"axis":null},"y":{"field":"y","type":"quantitative","scale":{"domain":[0,0.9],"nice":false},"axis":null},"text":{"field":"t"}}},
{"data":{"values":[{"t":"3","x":11167,"y":0.49},{"t":"2","x":11160,"y":0.156},{"t":"1","x":11160,"y":0.035}]},"mark":{"type":"text","align":"center","baseline":"middle","fontSize":14,"color":"#000000"},"encoding":{"x":{"field":"x","type":"quantitative","scale":{"domain":[6290,11300],"nice":false,"zero":false},"axis":null},"y":{"field":"y","type":"quantitative","scale":{"domain":[0,0.9],"nice":false},"axis":null},"text":{"field":"t"}}},
{"data":{"values":[{"t":"–","x":9333,"y":0.965}]},"mark":{"type":"text","align":"center","baseline":"middle","fontSize":10,"color":"#333333"},"encoding":{"x":{"field":"x","type":"quantitative","scale":{"domain":[6290,11300],"nice":false,"zero":false},"axis":null},"y":{"field":"y","type":"quantitative","scale":{"domain":[0,0.9],"nice":false},"axis":null},"text":{"field":"t"}}},
{"data":{"values":[{"t":"λ","x":6380,"y":0.945},{"t":"= 683 nm","x":6599,"y":0.945}]},"mark":{"type":"text","align":"left","baseline":"alphabetic","fontSize":14,"color":"#000000"},"encoding":{"x":{"field":"x","type":"quantitative","scale":{"domain":[6290,11300],"nice":false,"zero":false},"axis":null},"y":{"field":"y","type":"quantitative","scale":{"domain":[0,0.9],"nice":false},"axis":null},"text":{"field":"t"}}},
{"data":{"values":[{"t":"ex","x":6476,"y":0.929}]},"mark":{"type":"text","align":"left","baseline":"alphabetic","fontSize":8,"color":"#000000"},"encoding":{"x":{"field":"x","type":"quantitative","scale":{"domain":[6290,11300],"nice":false,"zero":false},"axis":null},"y":{"field":"y","type":"quantitative","scale":{"domain":[0,0.9],"nice":false},"axis":null},"text":{"field":"t"}}}
]}
]},
{"width":405,"height":284.2,"resolve":{"axis":{"x":"independent","y":"independent"}},"layer":[
{"data":{"name":"r3"},"mark":{"type":"line","color":"#000000","strokeWidth":1.3,"interpolate":"monotone"},"encoding":{"x":{"field":"x","type":"quantitative","scale":{"domain":[6290,11300],"nice":false,"zero":false},"axis":{"orient":"bottom","values":[6500,7000,7500,8000,8500,9000,9500,10000,10500,11000],"labelExpr":"datum.value % 1000 === 0 ? format(datum.value,'d') : ''","tickSize":4,"labelPadding":5,"title":"Optical frequency (cm⁻¹)","titlePadding":8}},"y":{"field":"y","type":"quantitative","scale":{"domain":[0,1.1],"nice":false},"axis":{"orient":"left","values":[0,0.1,0.2,0.3,0.4,0.5,0.6,0.7,0.8,0.9,1.0],"labelExpr":"round(datum.value*10) % 2 === 0 ? replace(format(datum.value,'.1f'),'.',',') : ''","tickSize":4,"labelPadding":3,"title":"Emission intensity (a.u.)","titlePadding":20}}}},
{"data":{"values":[{"x":6290,"x2":7494,"y":1.1134,"y2":1.2206}]},"mark":{"type":"rect","fill":"#ffffff","stroke":"#000000","strokeWidth":1},"encoding":{"x":{"field":"x","type":"quantitative","scale":{"domain":[6290,11300],"nice":false,"zero":false},"axis":null},"x2":{"field":"x2"},"y":{"field":"y","type":"quantitative","scale":{"domain":[0,1.1],"nice":false},"axis":null},"y2":{"field":"y2"}}},
{"data":{"name":"p3"},"mark":{"type":"line","color":"#ff0000","strokeWidth":1.3},"encoding":{"x":{"field":"x","type":"quantitative","scale":{"domain":[6290,11300],"nice":false,"zero":false},"axis":{"orient":"top","values":[6806,7309,7811,8314,8816,9319,9821,10324,10826],"labels":false,"tickSize":-4,"title":null}},"y":{"field":"y","type":"quantitative","scale":{"domain":[0,1.1],"nice":false},"axis":null}}},
{"data":{"name":"o3"},"mark":{"type":"line","color":"#0000ff","strokeWidth":1.3},"encoding":{"x":{"field":"x","type":"quantitative","scale":{"domain":[6290,11300],"nice":false,"zero":false},"axis":null},"y":{"field":"y","type":"quantitative","scale":{"domain":[0,1.1],"nice":false},"axis":null}}},
{"data":{"values":[{"s":"r","x":9960,"x2":10372,"y":1.05},{"s":"p","x":9960,"x2":10372,"y":0.985},{"s":"o","x":9960,"x2":10372,"y":0.92}]},"mark":{"type":"rule","strokeWidth":1.5},"encoding":{"x":{"field":"x","type":"quantitative","scale":{"domain":[6290,11300],"nice":false,"zero":false},"axis":null},"x2":{"field":"x2"},"y":{"field":"y","type":"quantitative","scale":{"domain":[0,1.1],"nice":false},"axis":null},"color":{"field":"s","type":"nominal","scale":{"domain":["r","p","o"],"range":["#000000","#ff0000","#0000ff"]},"legend":null}}},
{"data":{"values":[{"t":"r","x":10413,"y":1.05},{"t":"p","x":10413,"y":0.985},{"t":"o","x":10413,"y":0.92}]},"mark":{"type":"text","align":"left","baseline":"middle","fontSize":15,"fontStyle":"italic","color":"#000000"},"encoding":{"x":{"field":"x","type":"quantitative","scale":{"domain":[6290,11300],"nice":false,"zero":false},"axis":null},"y":{"field":"y","type":"quantitative","scale":{"domain":[0,1.1],"nice":false},"axis":null},"text":{"field":"t"}}},
{"data":{"values":[{"t":"-SWNTs","x":10413,"y":1.05}]},"mark":{"type":"text","align":"left","baseline":"middle","fontSize":15,"dx":5,"color":"#000000"},"encoding":{"x":{"field":"x","type":"quantitative","scale":{"domain":[6290,11300],"nice":false,"zero":false},"axis":null},"y":{"field":"y","type":"quantitative","scale":{"domain":[0,1.1],"nice":false},"axis":null},"text":{"field":"t"}}},
{"data":{"values":[{"t":"-SWNTs","x":10413,"y":0.985},{"t":"-SWNTs","x":10413,"y":0.92}]},"mark":{"type":"text","align":"left","baseline":"middle","fontSize":15,"dx":8.3,"color":"#000000"},"encoding":{"x":{"field":"x","type":"quantitative","scale":{"domain":[6290,11300],"nice":false,"zero":false},"axis":null},"y":{"field":"y","type":"quantitative","scale":{"domain":[0,1.1],"nice":false},"axis":null},"text":{"field":"t"}}},
{"data":{"values":[{"t":"3","x":11153,"y":0.582},{"t":"2","x":11150,"y":0.208},{"t":"1","x":11150,"y":0.036}]},"mark":{"type":"text","align":"center","baseline":"middle","fontSize":14,"color":"#000000"},"encoding":{"x":{"field":"x","type":"quantitative","scale":{"domain":[6290,11300],"nice":false,"zero":false},"axis":null},"y":{"field":"y","type":"quantitative","scale":{"domain":[0,1.1],"nice":false},"axis":null},"text":{"field":"t"}}},
{"data":{"values":[{"t":"λ","x":6373,"y":1.156},{"t":"= 638 nm","x":6670,"y":1.156}]},"mark":{"type":"text","align":"left","baseline":"alphabetic","fontSize":14,"color":"#000000"},"encoding":{"x":{"field":"x","type":"quantitative","scale":{"domain":[6290,11300],"nice":false,"zero":false},"axis":null},"y":{"field":"y","type":"quantitative","scale":{"domain":[0,1.1],"nice":false},"axis":null},"text":{"field":"t"}}},
{"data":{"values":[{"t":"exc","x":6455,"y":1.134}]},"mark":{"type":"text","align":"left","baseline":"alphabetic","fontSize":8,"color":"#000000"},"encoding":{"x":{"field":"x","type":"quantitative","scale":{"domain":[6290,11300],"nice":false,"zero":false},"axis":null},"y":{"field":"y","type":"quantitative","scale":{"domain":[0,1.1],"nice":false},"axis":null},"text":{"field":"t"}}}
]}
],
"spacing":15
}
